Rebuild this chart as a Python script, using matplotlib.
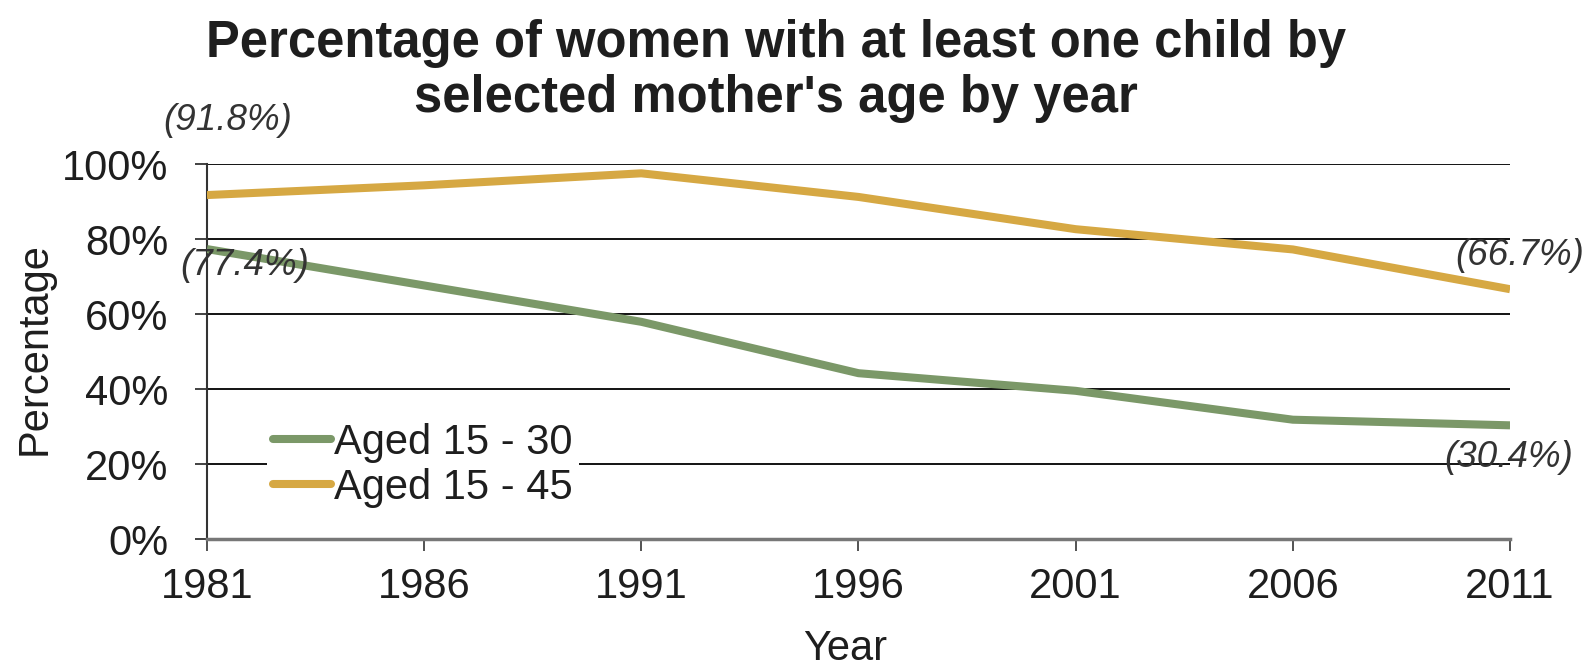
import matplotlib
matplotlib.use("Agg")
import matplotlib.pyplot as plt
from matplotlib.ticker import FuncFormatter

plt.rcParams['font.family'] = ['Liberation Sans', 'DejaVu Sans']

years = [1981, 1986, 1991, 1996, 2001, 2006, 2011]
aged_15_30 = [77.4, 67.7, 58.0, 44.3, 39.6, 31.9, 30.4]
aged_15_45 = [91.8, 94.4, 97.6, 91.3, 82.7, 77.3, 66.7]
series_names = ["Aged 15 - 30", "Aged 15 - 45"]

green = "#7b9868"
gold = "#d6a843"
ink = "#1e1e1e"

fig = plt.figure(figsize=(15.87, 6.62), dpi=100)
ax = fig.add_axes([0.1304, 0.1853, 0.8211, 0.5665])

ax.plot(years, aged_15_30, color=green, lw=5.8, solid_joinstyle="round",
        solid_capstyle="butt", label=series_names[0], zorder=3)
ax.plot(years, aged_15_45, color=gold, lw=5.8, solid_joinstyle="round",
        solid_capstyle="butt", label=series_names[1], zorder=3)

ax.set_xlim(years[0], years[-1])
ax.set_ylim(0, 100)
ax.set_xticks(years)
ax.set_yticks(range(0, 101, 20))
ax.yaxis.set_major_formatter(FuncFormatter(lambda v, p: f"{v:.0f}%"))

ax.grid(axis="y", color="black", lw=1.3)
ax.set_axisbelow(True)
for s in ("top", "right"):
    ax.spines[s].set_visible(False)
ax.spines["left"].set_color("#333333")
ax.spines["left"].set_linewidth(1.5)
ax.spines["bottom"].set_color("#777777")
ax.spines["bottom"].set_linewidth(2.5)

ax.tick_params(axis="both", labelsize=30, colors=ink, direction="out",
               length=8.6, width=1.3)
ax.tick_params(axis="x", pad=11, color="#444444")
ax.tick_params(axis="y", pad=19, color="#333333")

ax.set_ylabel("Percentage", fontsize=30, color=ink)
ax.yaxis.set_label_coords(-0.117, 0.51)
ax.set_xlabel("Year", fontsize=30, color=ink)
ax.xaxis.set_label_coords(0.49, -0.238)

fig.text(0.489, 0.831, "Percentage of women with at least one child by\nselected mother's age by year",
         ha="center", va="baseline", fontsize=36.5, fontweight="bold",
         color=ink, linespacing=1.15)

# end-point value labels
note = dict(textcoords="offset points", ha="center", va="center",
            fontsize=26.5, fontstyle="italic", color="#333333", zorder=4)
ax.annotate(f"({aged_15_45[0]}%)", xy=(years[0], aged_15_45[0]), xytext=(15, 54), **note)
ax.annotate(f"({aged_15_30[0]}%)", xy=(years[0], aged_15_30[0]), xytext=(27, -12), **note)
ax.annotate(f"({aged_15_45[-1]}%)", xy=(years[-1], aged_15_45[-1]), xytext=(7.2, 24.5), **note)
ax.annotate(f"({aged_15_30[-1]}%)", xy=(years[-1], aged_15_30[-1]), xytext=(-0.7, -23), **note)

leg = ax.legend(loc="center left", bbox_to_anchor=(0.046, 0.198), fontsize=30,
                frameon=True, facecolor="white", edgecolor="none", framealpha=1,
                handlelength=1.4, handletextpad=0.05, labelspacing=0.12,
                borderpad=0.15, borderaxespad=0)
for ln in leg.get_lines():
    ln.set_solid_capstyle("round")
for t in leg.get_texts():
    t.set_color(ink)

fig.savefig("out.png", dpi=100, facecolor="white")
